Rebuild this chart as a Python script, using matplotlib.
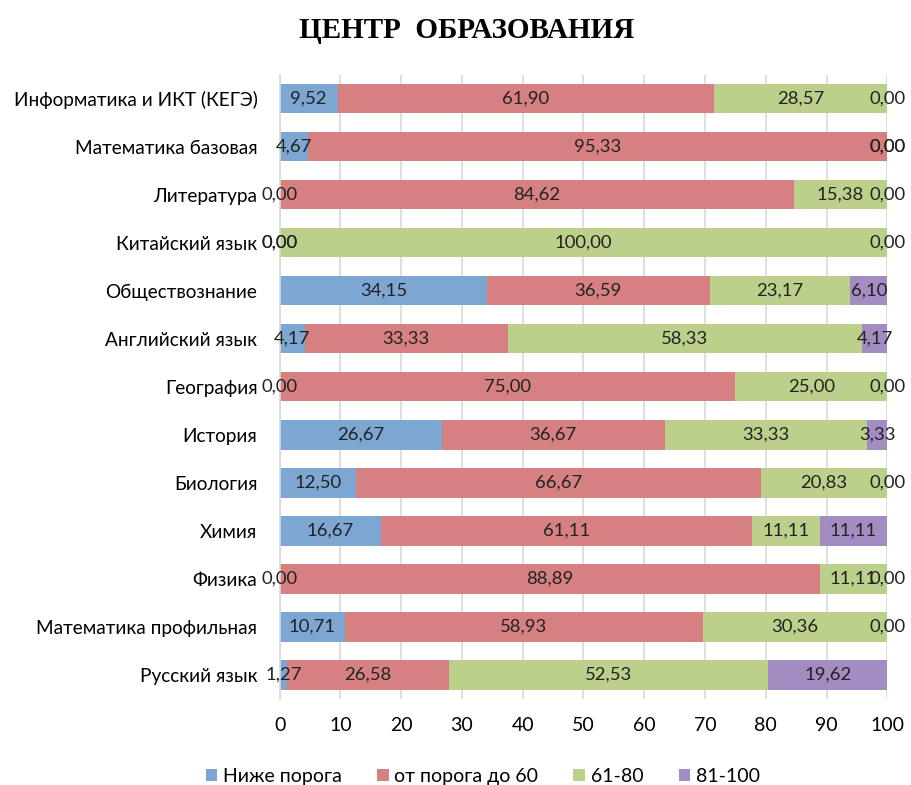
import numpy as np
import matplotlib.pyplot as plt

# subjects, bottom to top
subjects = ['Русский язык', 'Математика профильная', 'Физика', 'Химия', 'Биология',
            'История', 'География', 'Английский язык', 'Обществознание',
            'Китайский язык', 'Литература', 'Математика базовая',
            'Информатика и ИКТ (КЕГЭ)']
below = [1.27, 10.71, 0.00, 16.67, 12.50, 26.67, 0.00, 4.17, 34.15, 0.00, 0.00, 4.67, 9.52]
to60 = [26.58, 58.93, 88.89, 61.11, 66.67, 36.67, 75.00, 33.33, 36.59, 0.00, 84.62, 95.33, 61.90]
r61_80 = [52.53, 30.36, 11.11, 11.11, 20.83, 33.33, 25.00, 58.33, 23.17, 100.00, 15.38, 0.00, 28.57]
r81_100 = [19.62, 0.00, 0.00, 11.11, 0.00, 3.33, 0.00, 4.17, 6.10, 0.00, 0.00, 0.00, 0.00]
series_names = ['Ниже порога', 'от порога до 60', '61-80', '81-100']
colors = ['#7EA6D3', '#D68081', '#BBD08B', '#A28CC1']

plt.rcParams['font.family'] = ['Lato', 'DejaVu Sans']

fig = plt.figure(figsize=(9.11, 7.85), dpi=100)
ax = fig.add_axes([0.307, 0.110, 0.667, 0.795])

y = np.arange(len(subjects))
left = np.zeros(len(subjects))
for vals, name, c in zip([below, to60, r61_80, r81_100], series_names, colors):
    vals = np.array(vals)
    bars = ax.barh(y, vals, left=left, height=0.62, color=c, label=name, zorder=2)
    ax.bar_label(bars, labels=[f'{v:.2f}'.replace('.', ',') for v in vals],
                 label_type='center', fontsize=13.3, color='#222222')
    left += vals

ax.set_xlim(0, 100)
ax.set_ylim(-0.5, len(subjects) - 0.5)
ax.set_xticks(np.arange(0, 101, 10))
ax.set_yticks(y)
ax.set_yticklabels(subjects, fontsize=13.7)
ax.tick_params(axis='x', labelsize=14, length=0, pad=13)
ax.tick_params(axis='y', length=0, pad=16)
ax.grid(axis='x', color='#D9D9D9', linewidth=1.2, zorder=0)
for s in ['top', 'right', 'bottom']:
    ax.spines[s].set_visible(False)
ax.spines['left'].set_color('#D9D9D9')
ax.spines['left'].set_linewidth(1.2)

fig.suptitle('ЦЕНТР  ОБРАЗОВАНИЯ', x=0.512, y=0.978, fontsize=21, fontweight='bold',
             family='Liberation Serif')
fig.legend(loc='lower center', bbox_to_anchor=(0.53, -0.022), ncol=4, frameon=False,
           fontsize=14, handlelength=0.6, handleheight=0.6, handletextpad=0.3,
           columnspacing=1.8)

fig.savefig('out.png', dpi=100)
